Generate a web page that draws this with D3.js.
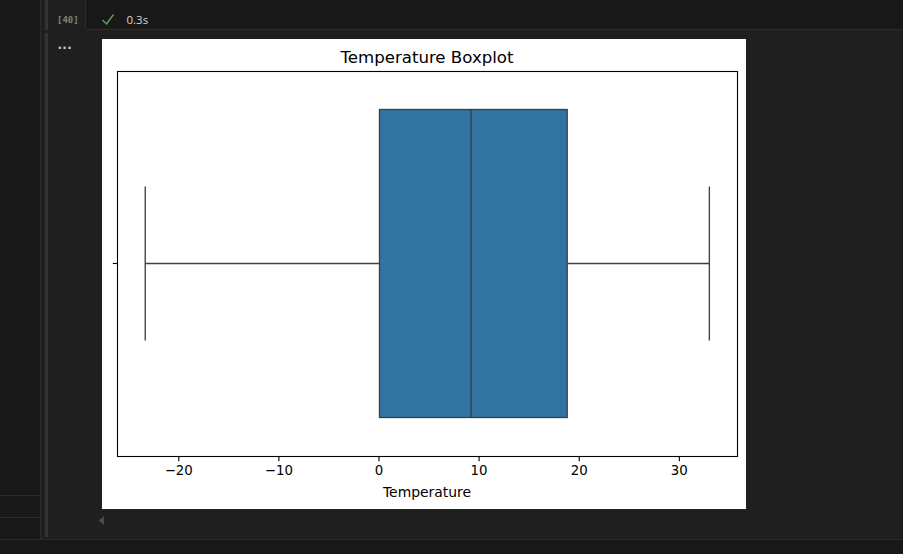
<!DOCTYPE html>
<html>
<head>
<meta charset="utf-8">
<script src="https://cdn.jsdelivr.net/npm/d3@7"></script>
<style>
  html, body { margin: 0; padding: 0; background: #1f1f1f; overflow: hidden; }
  svg { display: block; font-family: "DejaVu Sans", sans-serif; }
</style>
</head>
<body>
<svg id="chart" width="903" height="554"></svg>
<script>
var title = "Temperature Boxplot",
    xLabel = "Temperature",
    categories = ["Temperature"],
    xTicks = [-20, -10, 0, 10, 20, 30],
    xDomain = [-26.07, 35.86],
    whiskerLow = [-23.3],
    q1 = [0.1],
    median = [9.25],
    q3 = [18.85],
    whiskerHigh = [33.05];

var svg = d3.select("#chart");

// notebook chrome behind the figure
var chrome = svg.append("g").attr("shape-rendering", "crispEdges");
chrome.append("rect").attr("x", 0).attr("y", 0).attr("width", 903).attr("height", 554).attr("fill", "#1f1f1f");
chrome.append("rect").attr("x", 0).attr("y", 0).attr("width", 40).attr("height", 554).attr("fill", "#181818");
chrome.append("rect").attr("x", 85).attr("y", 0).attr("width", 818).attr("height", 29).attr("fill", "#181818");
chrome.append("rect").attr("x", 0).attr("y", 539).attr("width", 903).attr("height", 15).attr("fill", "#181818");
chrome.append("rect").attr("x", 85).attr("y", 29).attr("width", 818).attr("height", 1).attr("fill", "#2b2b2b");
chrome.append("rect").attr("x", 85).attr("y", 0).attr("width", 1).attr("height", 29).attr("fill", "#2b2b2b");
chrome.append("rect").attr("x", 40).attr("y", 0).attr("width", 1).attr("height", 539).attr("fill", "#2b2b2b");
chrome.append("rect").attr("x", 0).attr("y", 539).attr("width", 903).attr("height", 1).attr("fill", "#2b2b2b");
chrome.append("rect").attr("x", 0).attr("y", 495).attr("width", 40).attr("height", 1).attr("fill", "#2b2b2b");
chrome.append("rect").attr("x", 0).attr("y", 517).attr("width", 40).attr("height", 1).attr("fill", "#2b2b2b");
chrome.append("rect").attr("x", 45).attr("y", 0).attr("width", 3).attr("height", 30).attr("fill", "#333338");
chrome.append("rect").attr("x", 45).attr("y", 33).attr("width", 3).attr("height", 504).attr("rx", 1).attr("fill", "#333338");
svg.append("path").attr("d", "M104,516L98.5,520.5L104,525Z").attr("fill", "#4a4a4a");
svg.append("path").attr("d", "M102.5,20L106.5,24L113.5,14.5").attr("fill", "none").attr("stroke", "#5fa85f").attr("stroke-width", 1.3);
svg.append("text").attr("x", 57).attr("y", 22.5).attr("font-family", "DejaVu Sans Mono").attr("font-size", 9).attr("font-weight", "bold").attr("fill", "#808080").text("[40]");
svg.append("text").attr("x", 126.5).attr("y", 24).attr("font-family", "Open Sans").attr("font-size", 11.5).attr("fill", "#d4d4d4").text("0.3s");
svg.append("text").attr("x", 57.5).attr("y", 49).attr("font-size", 12).attr("font-weight", "bold").attr("letter-spacing", 0.3).attr("fill", "#c8c8c8").text("...");

// figure
svg.append("rect").attr("x", 102).attr("y", 39).attr("width", 644).attr("height", 470).attr("fill", "#fff");

var left = 117.5, right = 737.5, top_ = 71.5, bottom = 456.5;

var x = d3.scaleLinear().domain(xDomain).range([left, right]);
var y = d3.scaleBand().domain(categories).range([top_ - 0.5, bottom - 0.5]).padding(1 / 9);

var boxColor = "#3274a1", lineColor = "#3f3f3f";

var g = svg.append("g");
var rows = categories.map(function(d, i) {
  return {cat: d, lo: whiskerLow[i], q1: q1[i], med: median[i], q3: q3[i], hi: whiskerHigh[i]};
});
var mid = function(d) { return y(d.cat) + y.bandwidth() / 2; };

var box = g.selectAll(".box").data(rows).enter().append("g").attr("class", "box")
    .attr("stroke", lineColor).attr("stroke-width", 1.33);

// whiskers
box.append("line").attr("x1", function(d) { return x(d.lo); }).attr("x2", function(d) { return x(d.q1); })
    .attr("y1", mid).attr("y2", mid);
box.append("line").attr("x1", function(d) { return x(d.q3); }).attr("x2", function(d) { return x(d.hi); })
    .attr("y1", mid).attr("y2", mid);

// caps
box.selectAll(".cap").data(function(d) { return [d.lo, d.hi].map(function(v) { return {cat: d.cat, v: v}; }); })
  .enter().append("line").attr("class", "cap")
    .attr("x1", function(d) { return x(d.v); }).attr("x2", function(d) { return x(d.v); })
    .attr("y1", function(d) { return mid(d) - y.bandwidth() * 0.25; })
    .attr("y2", function(d) { return mid(d) + y.bandwidth() * 0.25; });

box.append("rect")
    .attr("x", function(d) { return x(d.q1); })
    .attr("y", function(d) { return y(d.cat); })
    .attr("width", function(d) { return x(d.q3) - x(d.q1); })
    .attr("height", y.bandwidth())
    .attr("fill", boxColor);

box.append("line").attr("x1", function(d) { return x(d.med); }).attr("x2", function(d) { return x(d.med); })
    .attr("y1", function(d) { return y(d.cat); }).attr("y2", function(d) { return y(d.cat) + y.bandwidth(); });

// axes
var xAxis = g.append("g").attr("transform", "translate(0," + bottom + ")")
    .call(d3.axisBottom(x).tickValues(xTicks).tickSize(4.7).tickPadding(4.5));
var yAxis = g.append("g").attr("transform", "translate(" + left + ",0)")
    .call(d3.axisLeft(y).tickSize(4.7).tickFormat(""));

[xAxis, yAxis].forEach(function(a) {
  a.select(".domain").remove();
  a.selectAll("line").attr("stroke", "#000").attr("stroke-width", 1.1);
  a.selectAll("text").attr("font-family", "DejaVu Sans").attr("font-size", 13.33).attr("fill", "#000");
});

g.append("rect").attr("x", left).attr("y", top_).attr("width", right - left).attr("height", bottom - top_)
    .attr("fill", "none").attr("stroke", "#000").attr("stroke-width", 1.1);

g.append("text").attr("x", (left + right) / 2 - 0.5).attr("y", 63).attr("text-anchor", "middle")
    .attr("font-size", 16.6).attr("fill", "#000").text(title);
g.append("text").attr("x", (left + right) / 2 - 0.5).attr("y", 497).attr("text-anchor", "middle")
    .attr("font-size", 13.9).attr("fill", "#000").text(xLabel);
</script>
</body>
</html>
